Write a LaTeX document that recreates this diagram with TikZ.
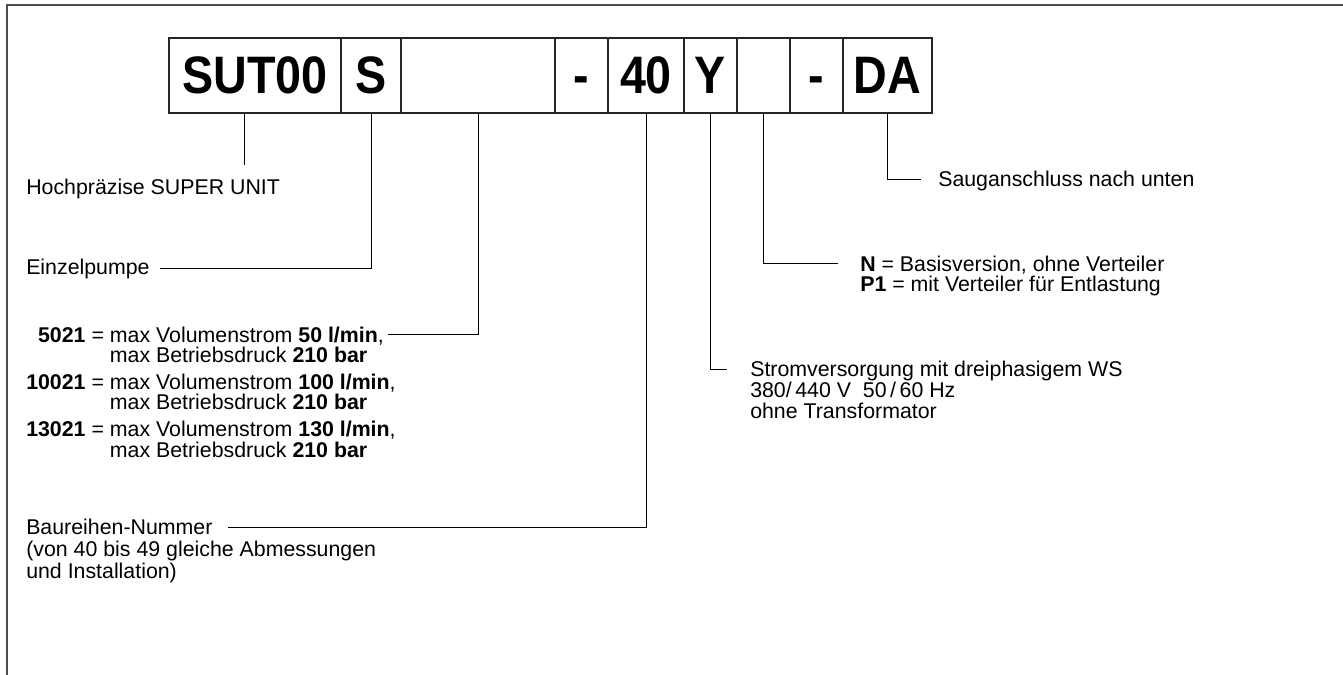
\documentclass[tikz,border=0pt]{standalone}
\usepackage{fontspec}
\setmainfont{Liberation Sans}
\usepackage{graphicx}
\usepackage{tikz}
\usetikzlibrary{positioning}

\newcommand{\pxu}{0.75pt}
\newcommand{\codetxt}[1]{\scalebox{1}[1.13]{\fontsize{35}{40}\selectfont\bfseries\vphantom{0}#1}}

\tikzset{
	codebox/.style={draw=black!85, line width=0.8pt, inner sep=0pt, outer sep=0pt, minimum height=75*\pxu},
	lbl/.style={inner sep=0pt, anchor=base west, align=left, font=\fontsize{16}{15.4}\selectfont},
	leader/.style={draw=black, line width=0.75pt},
	frame/.style={draw=black!70, line width=1.5pt}
}

\begin{document}
\begin{tikzpicture}[x=\pxu,y=-\pxu]
	\useasboundingbox (0,0) rectangle (1343,675);
	\draw[frame] (1343,4.5) -- (7,4.5) -- (7,675);
	% type code
	\node[codebox, minimum width=172*\pxu] (sut) at (255,75.5) {\codetxt{SUT00}};
	\node[codebox, minimum width=60*\pxu, right=0pt of sut] (s) {\codetxt{S}};
	\node[codebox, minimum width=154*\pxu, right=0pt of s] (var) {\codetxt{}};
	\node[codebox, minimum width=53*\pxu, right=0pt of var] (dash1) {\codetxt{-}};
	\node[codebox, minimum width=76*\pxu, right=0pt of dash1] (serie) {\codetxt{40}};
	\node[codebox, minimum width=53*\pxu, right=0pt of serie] (volt) {\codetxt{Y}};
	\node[codebox, minimum width=53*\pxu, right=0pt of volt] (opt) {\codetxt{}};
	\node[codebox, minimum width=53*\pxu, right=0pt of opt] (dash2) {\codetxt{-}};
	\node[codebox, minimum width=89*\pxu, right=0pt of dash2] (da) {\codetxt{DA}};
	% labels (base = last line)
	\node[lbl] (hoch) at (26,194.5) {Hochpräzise SUPER UNIT};
	\node[lbl] (einzel) at (26,274.5) {Einzelpumpe};
	\node[lbl] (volumen) at (26,457) {\hphantom{\textbf{1}}\textbf{5021} = max Volumenstrom \textbf{50 l/min},\\
		\hphantom{\textbf{10021} = }max Betriebsdruck \textbf{210 bar}\\[4.5pt]
		\textbf{10021} = max Volumenstrom \textbf{100 l/min},\\
		\hphantom{\textbf{10021} = }max Betriebsdruck \textbf{210 bar}\\[4.5pt]
		\textbf{13021} = max Volumenstrom \textbf{130 l/min},\\
		\hphantom{\textbf{10021} = }max Betriebsdruck \textbf{210 bar}};
	\node[lbl, font=\fontsize{16}{16.5}\selectfont] (baureihe) at (26,578.5) {Baureihen-Nummer\\(von 40 bis 49 gleiche Abmessungen\\und Installation)};
	\node[lbl, font=\fontsize{16}{15.75}\selectfont] (strom) at (750,418.5) {Stromversorgung mit dreiphasigem WS\\380/\,440~V~~50\,/\,60~Hz\\ohne Transformator};
	\node[lbl, font=\fontsize{16}{15}\selectfont] (verteiler) at (860,291) {\textbf{N} = Basisversion, ohne Verteiler\\\textbf{P1} = mit Verteiler für Entlastung};
	\node[lbl] (saug) at (938,186.5) {Sauganschluss nach unten};
	% leader ends
	\coordinate (hochend) at (244,165);
	\coordinate (einzelend) at (160,268);
	\coordinate (volumenend) at (388,334);
	\coordinate (baureiheend) at (228,527);
	\coordinate (stromend) at (727,369);
	\coordinate (verteilerend) at (838,263);
	\coordinate (saugend) at (921,179);
	% leaders
	\draw[leader] (hochend |- sut.south) -- (hochend);
	\draw[leader] (s.south) |- (einzelend);
	\draw[leader] (var.south) |- (volumenend);
	\draw[leader] (serie.south) |- (baureiheend);
	\draw[leader] (volt.south) |- (stromend);
	\draw[leader] (opt.south) |- (verteilerend);
	\draw[leader] (da.south) |- (saugend);
\end{tikzpicture}
\end{document}
